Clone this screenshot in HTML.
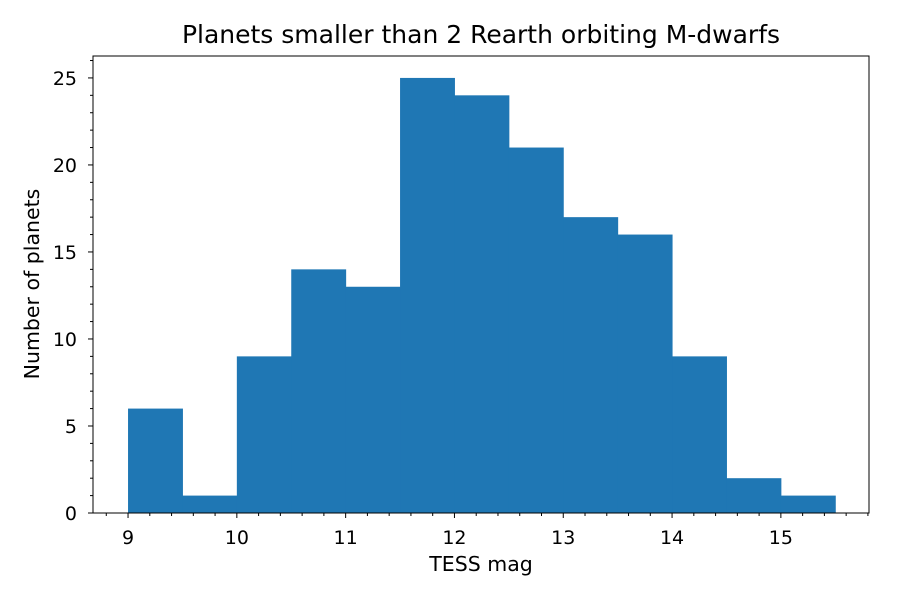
<!DOCTYPE html>
<html><head><meta charset="utf-8"><style>
body{margin:0;background:#fff;}
svg text{font-family:"DejaVu Sans","Liberation Sans",sans-serif;fill:#000;}
</style></head><body>
<svg id="chart" width="900" height="600" xmlns="http://www.w3.org/2000/svg">
<rect width="900" height="600" fill="#fff"/>
<text x="481" y="43" style="font-size:25px" text-anchor="middle">Planets smaller than 2 Rearth orbiting M-dwarfs</text>
<text x="481" y="571" style="font-size:20.5px" text-anchor="middle">TESS mag</text>
<text transform="translate(39,284) rotate(-90)" style="font-size:20.5px" text-anchor="middle">Number of planets</text>
<g id="bars"></g><g id="ticks"></g>
<rect x="93" y="56" width="776" height="457" fill="none" stroke="#000" stroke-width="1"/>
</svg>
<script>
const binStarts=[9,9.5,10,10.5,11,11.5,12,12.5,13,13.5,14,14.5,15];
const counts=[6,1,9,14,13,25,24,21,17,16,9,2,1];
const binWidth=0.5;
const xTicks=[9,10,11,12,13,14,15];
const yTicks=[0,5,10,15,20,25];
const L=93,R=869,T=56,B=513;
const xmin=8.678,xmax=15.81,ymax=26.26;
const sx=v=>L+(v-xmin)/(xmax-xmin)*(R-L);
const sy=v=>B-v/ymax*(B-T);
const NS="http://www.w3.org/2000/svg";
const bars=document.getElementById('bars'),ticks=document.getElementById('ticks');
function mk(tag,attrs,parent){const e=document.createElementNS(NS,tag);for(const k in attrs)e.setAttribute(k,attrs[k]);parent.appendChild(e);return e;}
binStarts.forEach((s,i)=>{
 const r=mk('rect',{x:sx(s),y:sy(counts[i]),width:sx(s+binWidth)-sx(s)+0.5,height:B-sy(counts[i]),fill:'#1f77b4'},bars);
 
 
});
xTicks.forEach(v=>{
 mk('line',{x1:sx(v),x2:sx(v),y1:B,y2:B+5,stroke:'#000'},ticks);
 const t=mk('text',{x:sx(v),y:B+31,style:'font-size:19px','text-anchor':'middle'},ticks);t.textContent=v;
 
 
});
for(let v=8.8;v<15.81;v+=0.2){const r=Math.round(v*5)/5;if(Math.abs(r-Math.round(r))<1e-6)continue;mk('line',{x1:sx(r),x2:sx(r),y1:B,y2:B+3,stroke:'#000'},ticks);}
yTicks.forEach(v=>{
 mk('line',{x1:L-5,x2:L,y1:sy(v),y2:sy(v),stroke:'#000'},ticks);
 const t=mk('text',{x:L-16,y:sy(v)+7,style:'font-size:19px','text-anchor':'end'},ticks);t.textContent=v;
 
 
});
for(let v=1;v<=26;v++){if(v%5===0)continue;mk('line',{x1:L-3,x2:L,y1:sy(v),y2:sy(v),stroke:'#000'},ticks);}
</script>
</body></html>
